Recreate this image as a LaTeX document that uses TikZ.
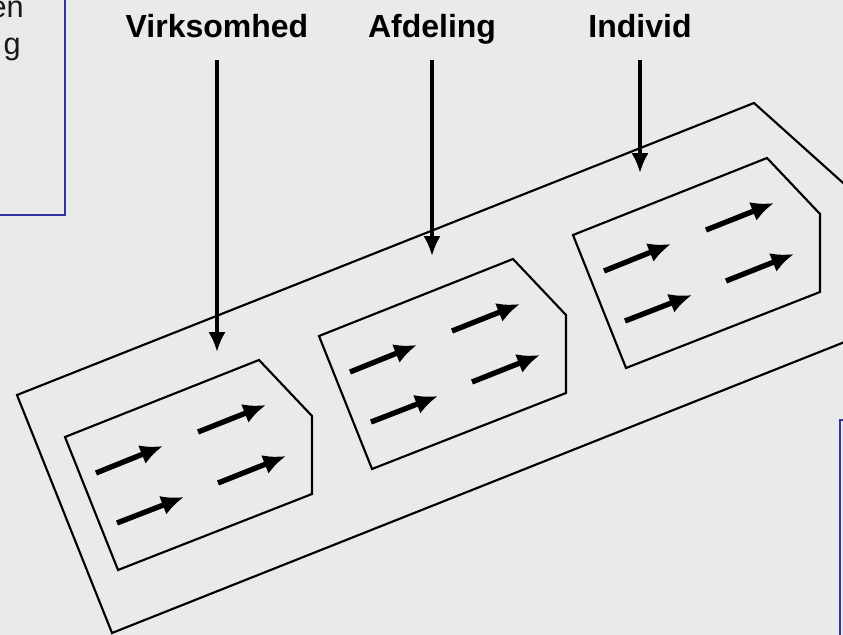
\documentclass[tikz,border=0pt]{standalone}
\usepackage{fontspec}
\setmainfont{Liberation Sans}
\usetikzlibrary{arrows.meta}
\definecolor{panelgray}{RGB}{233,234,234}
\definecolor{frameblue}{RGB}{52,52,160}

\begin{document}
\begin{tikzpicture}[x=0.75pt,y=-0.75pt]%
        \tikzset{level/.style={font=\fontsize{24}{28}\selectfont\bfseries,inner sep=0pt,text depth=0.25em,anchor=base}, %%
                 pointer/.style={line width=2.6pt,-{Latex[length=15pt,width=13pt]},shorten <=14pt}, %%
                 flow/.style={line width=4pt,-{Latex[length=17pt,width=15pt]}}, %%
                 outline/.style={line width=1.6pt,line join=miter}} %%
        \fill[panelgray] (0,0) rectangle (843,635); %%
        \useasboundingbox (0,0) rectangle (843,635); %%
        \clip (0,0) rectangle (843,635); %%
        % side frames cut by the page
        \draw[frameblue,line width=1.5pt] (-10,-10) rectangle (65,215); %%
        \draw[frameblue,line width=1.5pt] (840,420) rectangle (900,700); %%
        \begin{scope}[font=\fontsize{23}{28}\selectfont,text=black!90]
        \node[anchor=base east,inner sep=0pt] (frag1) at (24,18) {en}; %%
        \node[anchor=base east,inner sep=0pt] (frag2) at (21,55) {g}; %%
        \end{scope}
        % levels
        \node[level] (vlbl) at (217,38) {Virksomhed}; %%
        \node[level] (albl) at (432,38) {Afdeling}; %%
        \node[level] (ilbl) at (640,38) {Individ}; %%
        \coordinate (vtip) at (217,352); %%
        \coordinate (atip) at (432,256); %%
        \coordinate (itip) at (640,173); %%
        % outer frame
        \draw[outline] (17,395) -- (754,103) -- (900,234) -- (900,320) -- (112,633) -- cycle; %%
        % inner boxes with their arrows
        \foreach \bx/\by in {65/437,319/336,573/235}{
          \draw[outline] (\bx,\by) -- ++(194,-77) -- ++(53,56) -- ++(0,78) -- ++(-194,76) -- cycle; %%
          \draw[flow] (\bx+31,\by+36) -- (\bx+98,\by+9); %%
          \draw[flow] (\bx+133,\by-5) -- (\bx+201,\by-32); %%
          \draw[flow] (\bx+52,\by+86) -- (\bx+119,\by+60); %%
          \draw[flow] (\bx+153,\by+46) -- (\bx+221,\by+19); %%
        }
        \draw[pointer] (vlbl.south) -- (vtip); %%
        \draw[pointer] (albl.south) -- (atip); %%
        \draw[pointer] (ilbl.south) -- (itip); %%
\end{tikzpicture}
\end{document}
